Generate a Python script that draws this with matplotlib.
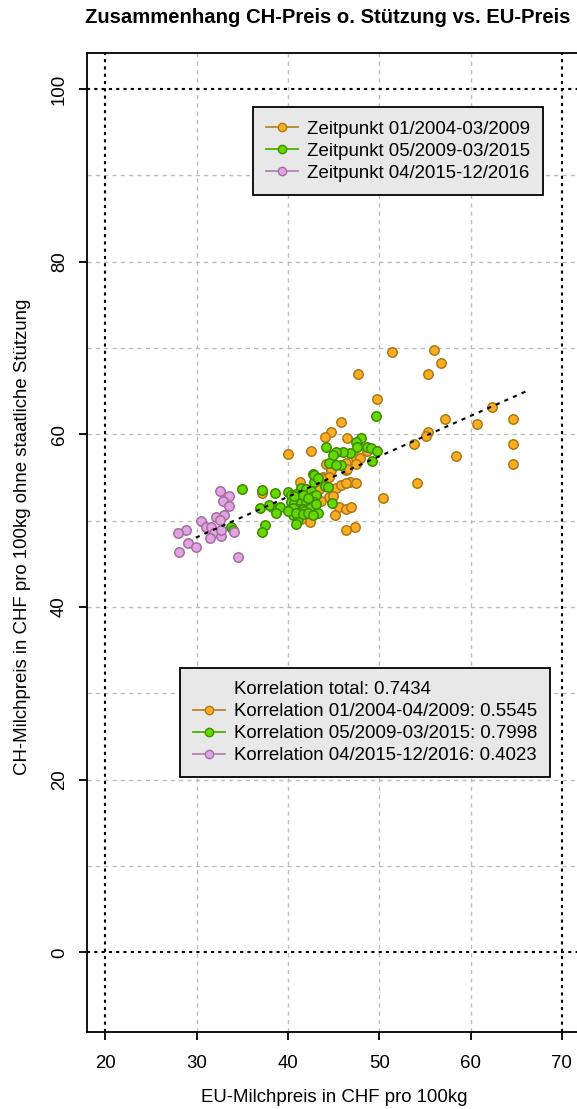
import matplotlib.pyplot as plt
from matplotlib.lines import Line2D
import numpy as np

plt.rcParams['font.family'] = ['Liberation Sans', 'DejaVu Sans']

# EU-Preis (x) vs CH-Preis ohne Stuetzung (y)
orange_x = [51.4, 56.0, 56.8, 55.3, 47.7, 49.7, 45.8, 62.4, 57.2, 60.7, 64.7, 55.3, 55.1, 53.8,
            58.4, 64.7, 64.6, 54.1, 50.4, 46.5, 47.3, 46.3, 44.7, 47.6, 40.0, 42.5, 44.2, 46.4,
            47.5, 44.7, 46.4, 43.8, 44.5, 41.3, 43.4, 45.3, 45.8, 46.8, 47.4, 44.5, 44.9, 43.6,
            45.6, 46.4, 46.9, 45.1, 41.4, 42.4, 37.1, 48.6, 47.9, 47.4, 46.3, 44.0, 43.6, 42.9,
            46.5]
orange_y = [69.5, 69.7, 68.2, 67.0, 67.0, 64.1, 61.4, 63.2, 61.8, 61.2, 61.8, 60.3, 59.8, 58.9,
            57.5, 58.9, 56.6, 54.4, 52.6, 59.6, 49.2, 48.9, 60.3, 59.0, 57.7, 58.0, 56.6, 56.7,
            57.3, 55.9, 55.8, 55.1, 55.1, 54.5, 53.6, 53.8, 54.1, 54.5, 54.3, 52.7, 52.8, 52.3,
            51.6, 51.3, 51.6, 50.6, 50.2, 49.8, 53.2, 58.0, 57.3, 56.6, 54.4, 59.7, 54.9, 52.6,
            56.0]

green_x = [49.6, 48.0, 47.5, 47.6, 48.6, 49.1, 49.7, 49.2, 46.8, 46.0, 45.3, 44.9, 44.2, 45.8,
           44.5, 45.3, 42.7, 42.9, 44.0, 44.4, 41.4, 42.0, 42.5, 38.6, 40.0, 40.3, 40.9, 41.3,
           41.8, 42.7, 43.1, 40.3, 40.7, 41.4, 42.0, 42.5, 42.9, 44.8, 38.2, 39.1, 40.2, 41.1,
           41.6, 42.4, 43.3, 38.7, 40.5, 41.1, 40.9, 41.8, 35.0, 37.2, 36.9, 37.9, 37.5, 37.1,
           33.7, 34.0, 42.8, 43.3, 40.7, 41.6, 42.2, 43.1, 40.5, 40.0, 40.9, 41.6, 42.2, 42.7]
green_y = [62.1, 59.6, 59.1, 58.5, 58.5, 58.4, 58.1, 56.9, 57.8, 57.9, 57.9, 57.6, 58.5, 56.4,
           56.7, 56.4, 55.4, 54.5, 54.0, 53.9, 53.8, 53.6, 53.4, 53.2, 53.3, 53.0, 53.1, 52.8,
           52.7, 52.8, 53.0, 52.2, 52.0, 52.0, 52.0, 51.8, 52.2, 52.0, 51.6, 51.6, 51.3, 51.3,
           51.3, 51.4, 50.9, 50.9, 50.6, 50.2, 49.6, 51.1, 53.7, 53.5, 51.4, 51.8, 49.5, 48.7,
           49.3, 48.9, 55.3, 54.9, 52.8, 53.0, 52.6, 51.9, 51.4, 51.1, 50.9, 50.8, 50.9, 50.7]

purple_x = [32.5, 33.5, 32.9, 33.5, 33.0, 32.1, 32.5, 30.5, 31.0, 31.6, 28.8, 27.9, 31.9, 32.7,
            34.1, 31.5, 29.0, 29.9, 28.1, 34.5, 32.7]
purple_y = [53.4, 52.8, 52.3, 51.7, 50.7, 50.4, 50.1, 49.9, 49.3, 49.3, 48.9, 48.6, 48.6, 48.2,
            48.7, 48.0, 47.4, 46.9, 46.4, 45.8, 48.9]

periods = ["Zeitpunkt 01/2004-03/2009", "Zeitpunkt 05/2009-03/2015", "Zeitpunkt 04/2015-12/2016"]
corr_labels = ["Korrelation total: 0.7434",
               "Korrelation 01/2004-04/2009: 0.5545",
               "Korrelation 05/2009-03/2015: 0.7998",
               "Korrelation 04/2015-12/2016: 0.4023"]
fit_range = [29.9, 66.0]

fills = ['#ffad1f', '#66d800', '#e3a3e3']
edges = ['#a87a1c', '#3e8c00', '#a070a0']
lines = ['#b8862b', '#4cb000', '#b484b4']

fs = 13.4

fig = plt.figure(figsize=(5.771, 11.091), dpi=100)
# the plot area runs past the right edge of the picture (cropped original)
ax = fig.add_axes([0.1511, 0.0697, 1.0482, 0.8828])
ax.set_xlim(18, 84.27)
ax.set_ylim(-9.2, 104.2)

# grid
for v in range(30, 70, 10):
    ax.axvline(v, color='#bdbdbd', lw=1, ls=(0, (3, 3)), zorder=0)
for v in range(10, 100, 10):
    ax.axhline(v, color='#bdbdbd', lw=1, ls=(0, (3, 3)), zorder=0)
for v in [20, 70]:
    ax.axvline(v, color='black', lw=1.5, ls=(0, (1.5, 2)), zorder=0)
for v in [0, 100]:
    ax.axhline(v, color='black', lw=1.5, ls=(0, (1.5, 2)), zorder=0)

sets = [(orange_x, orange_y), (green_x, green_y), (purple_x, purple_y)]
for (xs, ys), fc, ec in zip(sets, fills, edges):
    ax.scatter(xs, ys, s=46, c=fc, edgecolors=ec, linewidths=1.1, zorder=3)

# linear fit over all points
all_x = np.array(orange_x + green_x + purple_x)
all_y = np.array(orange_y + green_y + purple_y)
k, d = np.polyfit(all_x, all_y, 1)
fx = np.array(fit_range)
ax.plot(fx, k * fx + d, color='black', lw=1.5, ls=(0, (2, 2.5)), zorder=4)

ax.set_xticks(range(20, 71, 10))
ax.set_yticks(range(0, 101, 20))
ax.tick_params(direction='out', length=6, width=1.3, labelsize=fs)
ax.tick_params(axis='x', pad=11)
ax.tick_params(axis='y', pad=8)
plt.setp(ax.get_yticklabels(), rotation=90, va='center')
for s in ax.spines.values():
    s.set_linewidth(1.3)
ax.spines['right'].set_visible(False)

fig.text(0.5685, 0.984, "Zusammenhang CH-Preis o. Stützung vs. EU-Preis",
         ha='center', va='center', fontsize=14.6, fontweight='bold')
fig.text(0.579, 1 - 1097 / 1109, "EU-Milchpreis in CHF pro 100kg",
         ha='center', va='center', fontsize=fs)
fig.text(22 / 577, 1 - 537 / 1109, "CH-Milchpreis in CHF pro 100kg ohne staatliche Stützung",
         ha='center', va='center', rotation=90, fontsize=fs)

legend_style = dict(bbox_transform=fig.transFigure, borderaxespad=0, fontsize=fs,
                    handlelength=1.7, handletextpad=0.5, labelspacing=0.27, borderpad=0.7,
                    fancybox=False, framealpha=1, facecolor='#e8e8e8', edgecolor='black')

h1 = [Line2D([0], [0], color=lc, lw=1.3, marker='o', markersize=6,
             markerfacecolor=fc, markeredgecolor=ec)
      for lc, fc, ec in zip(lines, fills, edges)]
leg1 = ax.legend(h1, periods, loc='upper left', bbox_to_anchor=(253 / 577, 1 - 107.5 / 1109),
                 **legend_style)
leg1.get_frame().set_linewidth(1.3)
ax.add_artist(leg1)

h2 = [Line2D([], [], lw=0)] + h1
leg2 = ax.legend(h2, corr_labels, loc='upper left', bbox_to_anchor=(180 / 577, 1 - 668 / 1109),
                 **legend_style)
leg2.get_frame().set_linewidth(1.3)

plt.savefig("out.png", dpi=100)
